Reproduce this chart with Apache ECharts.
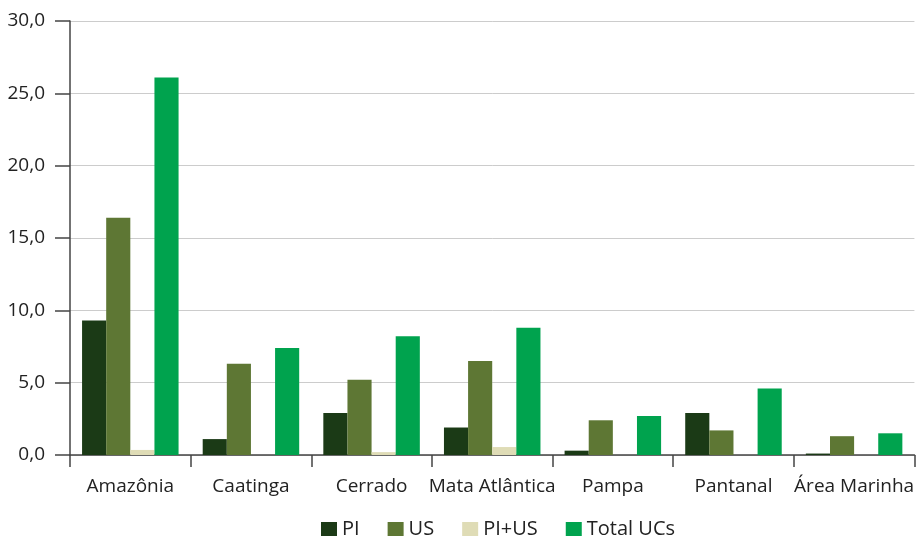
<!DOCTYPE html>
<html><head><meta charset="utf-8">
<script src="https://cdn.jsdelivr.net/npm/echarts@6/dist/echarts.min.js"></script>
<style>html,body{margin:0;padding:0;background:#fff}#c{width:917px;height:536px}</style>
</head><body><div id="c"></div>
<script>
const categories = ['Amazônia','Caatinga','Cerrado','Mata Atlântica','Pampa','Pantanal','Área Marinha'];
const seriesNames = ['PI','US','PI+US','Total UCs'];
const pi = [9.3, 1.1, 2.9, 1.9, 0.3, 2.9, 0.1];
const us = [16.4, 6.3, 5.2, 6.5, 2.4, 1.7, 1.3];
const piUs = [0.35, 0, 0.2, 0.55, 0, 0, 0];
const total = [26.1, 7.4, 8.2, 8.8, 2.7, 4.6, 1.5];
const colors = ['#1b3a16', '#5e7734', '#dfdcb6', '#00a34e'];
const font = '"Open Sans", "Noto Sans", sans-serif';
const chart = echarts.init(document.getElementById('c'), null, {renderer: 'canvas'});
const data = [pi, us, piUs, total];
chart.setOption({
  animation: false,
  color: colors,
  textStyle: {fontFamily: font},
  grid: {left: 70, right: 1, top: 21, bottom: 81, containLabel: false},
  legend: {
    top: 514, left: 316, itemWidth: 16, itemHeight: 14, itemGap: 28,
    icon: 'rect',
    textStyle: {fontFamily: font, fontSize: 20, color: '#222'},
    data: seriesNames
  },
  xAxis: {
    type: 'category', data: categories,
    axisLine: {lineStyle: {color: '#444', width: 1.5}},
    axisTick: {show: true, length: 12, alignWithLabel: false, lineStyle: {color: '#444', width: 1.5}},
    axisLabel: {fontFamily: font, fontSize: 19, color: '#222', margin: 22, interval: 0}
  },
  yAxis: {
    type: 'value', min: 0, max: 30, interval: 5,
    axisLine: {show: true, lineStyle: {color: '#444', width: 1.5}},
    axisTick: {show: true, length: 15, lineStyle: {color: '#444', width: 1.5}},
    axisLabel: {fontFamily: font, fontSize: 19, color: '#222', margin: 25,
      formatter: v => v.toFixed(1).replace('.', ',')},
    splitLine: {show: true, lineStyle: {color: '#cccccc', width: 1}}
  },
  series: seriesNames.map((n, i) => ({
    name: n, type: 'bar', data: data[i],
    barGap: '0%', barCategoryGap: '20%',
    itemStyle: {color: colors[i]}
  }))
});
</script>
</body></html>
